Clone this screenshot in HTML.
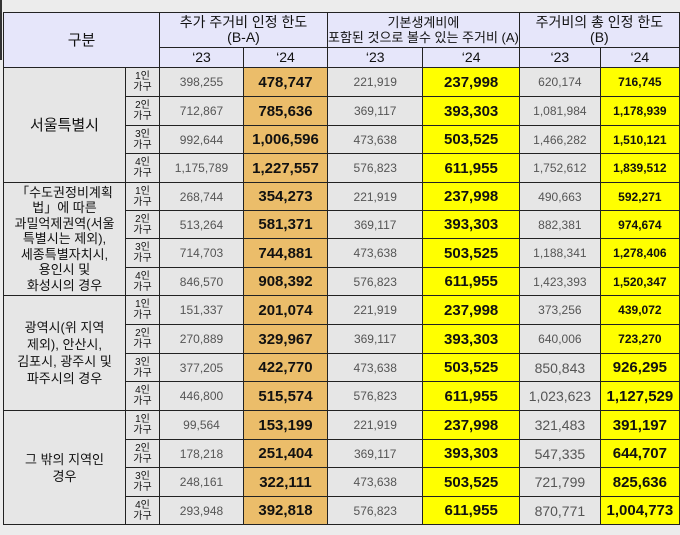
<!DOCTYPE html>
<html><head><meta charset="utf-8"><style>
body{margin:0;background:#ececec;width:680px;height:535px;overflow:hidden;font-family:"Liberation Sans","Noto Sans CJK KR",sans-serif}
table{position:absolute;left:3px;top:12px;border-collapse:collapse;table-layout:fixed;background:#e6e6e6}
td{border:1px solid #222;padding:0;text-align:center;vertical-align:middle;overflow:hidden;white-space:nowrap}
.h{background:#e6e6fa;color:#111;font-size:14px;line-height:15px}
.r{font-size:13px;line-height:17px;color:#111;white-space:normal}
.g{font-size:10px;line-height:11px;color:#111}
.a{font-size:12px;color:#555}
.o{background:#ebbd6a;font-size:15px;font-weight:bold;color:#111}
.y{background:#ffff00;font-size:15px;font-weight:bold;color:#111}
.ys{background:#ffff00;font-size:12px;font-weight:bold;color:#111}
</style></head><body>
<div style="position:absolute;left:0;top:0;width:2px;height:60px;background:#333"></div>
<table>
<colgroup><col style="width:122px"><col style="width:34px"><col style="width:84px"><col style="width:84px"><col style="width:94px"><col style="width:95px"><col style="width:81px"><col style="width:79px"></colgroup>
<tr style="height:35px"><td class="h" colspan="2" rowspan="2" style="font-size:15px">구분</td><td class="h" colspan="2">추가 주거비 인정 한도<br>(B-A)</td><td class="h" colspan="2" style="font-size:13px">기본생계비에<br>포함된 것으로 볼수 있는 주거비 (A)</td><td class="h" colspan="2">주거비의 총 인정 한도<br>(B)</td></tr>
<tr style="height:20px"><td class="h">‘23</td><td class="h">‘24</td><td class="h">‘23</td><td class="h">‘24</td><td class="h">‘23</td><td class="h">‘24</td></tr>
<tr style="height:29px"><td class="r" rowspan="4" style="font-size:15px">서울특별시</td><td class="g">1인<br>가구</td><td class="a">398,255</td><td class="o">478,747</td><td class="a">221,919</td><td class="y">237,998</td><td class="a">620,174</td><td class="ys">716,745</td></tr>
<tr style="height:29px"><td class="g">2인<br>가구</td><td class="a">712,867</td><td class="o">785,636</td><td class="a">369,117</td><td class="y">393,303</td><td class="a">1,081,984</td><td class="ys">1,178,939</td></tr>
<tr style="height:28px"><td class="g">3인<br>가구</td><td class="a">992,644</td><td class="o">1,006,596</td><td class="a">473,638</td><td class="y">503,525</td><td class="a">1,466,282</td><td class="ys">1,510,121</td></tr>
<tr style="height:29px"><td class="g">4인<br>가구</td><td class="a">1,175,789</td><td class="o">1,227,557</td><td class="a">576,823</td><td class="y">611,955</td><td class="a">1,752,612</td><td class="ys">1,839,512</td></tr>
<tr style="height:28px"><td class="r" rowspan="4" style="line-height:15.5px">「수도권정비계획<br>법」에 따른<br>과밀억제권역(서울<br>특별시는 제외),<br>세종특별자치시,<br>용인시 및<br>화성시의 경우</td><td class="g">1인<br>가구</td><td class="a">268,744</td><td class="o">354,273</td><td class="a">221,919</td><td class="y">237,998</td><td class="a">490,663</td><td class="ys">592,271</td></tr>
<tr style="height:28px"><td class="g">2인<br>가구</td><td class="a">513,264</td><td class="o">581,371</td><td class="a">369,117</td><td class="y">393,303</td><td class="a">882,381</td><td class="ys">974,674</td></tr>
<tr style="height:29px"><td class="g">3인<br>가구</td><td class="a">714,703</td><td class="o">744,881</td><td class="a">473,638</td><td class="y">503,525</td><td class="a">1,188,341</td><td class="ys">1,278,406</td></tr>
<tr style="height:28px"><td class="g">4인<br>가구</td><td class="a">846,570</td><td class="o">908,392</td><td class="a">576,823</td><td class="y">611,955</td><td class="a">1,423,393</td><td class="ys">1,520,347</td></tr>
<tr style="height:29px"><td class="r" rowspan="4">광역시(위 지역<br>제외), 안산시,<br>김포시, 광주시 및<br>파주시의 경우</td><td class="g">1인<br>가구</td><td class="a">151,337</td><td class="o">201,074</td><td class="a">221,919</td><td class="y">237,998</td><td class="a">373,256</td><td class="ys">439,072</td></tr>
<tr style="height:29px"><td class="g">2인<br>가구</td><td class="a">270,889</td><td class="o">329,967</td><td class="a">369,117</td><td class="y">393,303</td><td class="a">640,006</td><td class="ys">723,270</td></tr>
<tr style="height:28px"><td class="g">3인<br>가구</td><td class="a">377,205</td><td class="o">422,770</td><td class="a">473,638</td><td class="y">503,525</td><td class="a" style="font-size:14px">850,843</td><td class="y">926,295</td></tr>
<tr style="height:29px"><td class="g">4인<br>가구</td><td class="a">446,800</td><td class="o">515,574</td><td class="a">576,823</td><td class="y">611,955</td><td class="a" style="font-size:14px">1,023,623</td><td class="y">1,127,529</td></tr>
<tr style="height:29px"><td class="r" rowspan="4">그 밖의 지역인<br>경우</td><td class="g">1인<br>가구</td><td class="a">99,564</td><td class="o">153,199</td><td class="a">221,919</td><td class="y">237,998</td><td class="a" style="font-size:14px">321,483</td><td class="y">391,197</td></tr>
<tr style="height:28px"><td class="g">2인<br>가구</td><td class="a">178,218</td><td class="o">251,404</td><td class="a">369,117</td><td class="y">393,303</td><td class="a" style="font-size:14px">547,335</td><td class="y">644,707</td></tr>
<tr style="height:29px"><td class="g">3인<br>가구</td><td class="a">248,161</td><td class="o">322,111</td><td class="a">473,638</td><td class="y">503,525</td><td class="a" style="font-size:14px">721,799</td><td class="y">825,636</td></tr>
<tr style="height:28px"><td class="g">4인<br>가구</td><td class="a">293,948</td><td class="o">392,818</td><td class="a">576,823</td><td class="y">611,955</td><td class="a" style="font-size:14px">870,771</td><td class="y">1,004,773</td></tr>
</table>
</body></html>
